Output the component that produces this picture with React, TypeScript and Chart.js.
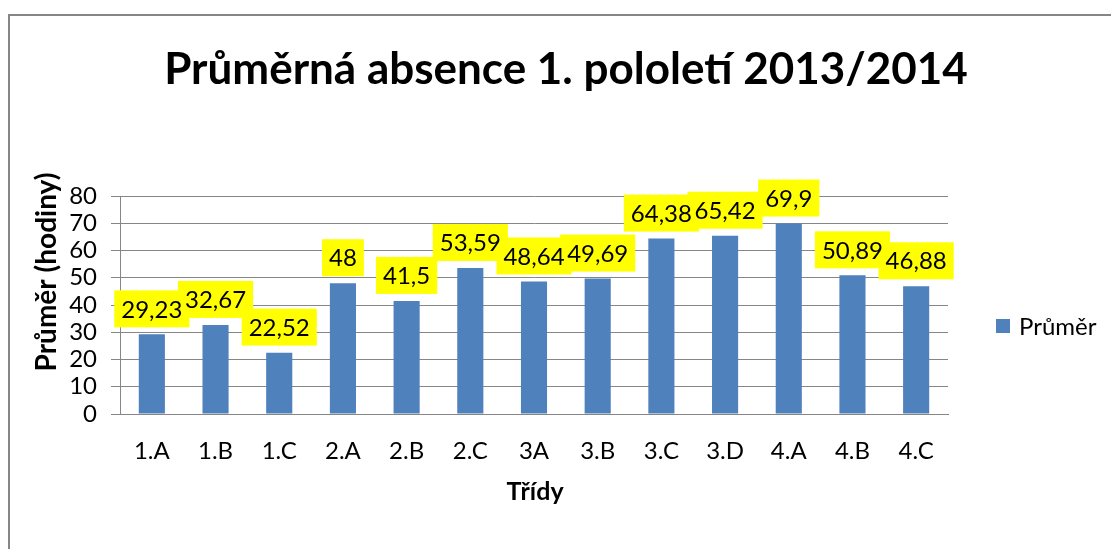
import React, { useEffect, useRef } from "react";
import { Chart, registerables } from "chart.js";

Chart.register(...registerables);

const chartTitle = "Průměrná absence 1. pololetí 2013/2014";
const yAxisTitle = "Průměr (hodiny)";
const xAxisTitle = "Třídy";
const seriesName = "Průměr";
const categories = ["1.A", "1.B", "1.C", "2.A", "2.B", "2.C", "3A", "3.B", "3.C", "3.D", "4.A", "4.B", "4.C"];
const values = [29.23, 32.67, 22.52, 48, 41.5, 53.59, 48.64, 49.69, 64.38, 65.42, 69.9, 50.89, 46.88];
const yMin = 0;
const yMax = 80;
const yStep = 10;

const FONT = "Lato, 'Open Sans', sans-serif";
const BAR = "#4F81BD";
const GRID = "#868686";

const fmt = (v: number) => String(v).replace(".", ",");

const decor = {
  id: "decor",
  beforeDraw(chart: any) {
    const ctx = chart.ctx;
    ctx.save();
    ctx.fillStyle = "#fff";
    ctx.fillRect(0, 0, chart.width, chart.height);
    ctx.strokeStyle = GRID;
    ctx.lineWidth = 2;
    ctx.strokeRect(9, 15, chart.width + 50, chart.height + 50);
    ctx.restore();
  },
  afterDatasetsDraw(chart: any) {
    const ctx = chart.ctx;
    const meta = chart.getDatasetMeta(0);
    ctx.save();
    ctx.font = `24px ${FONT}`;
    ctx.textAlign = "center";
    ctx.textBaseline = "middle";
    const h = 37;
    const items = meta.data.map((bar: any, i: number) => {
      const txt = fmt(values[i]);
      const w = ctx.measureText(txt).width + 14;
      const bottom = bar.y - 7;
      return { txt, w, x: bar.x, bottom };
    });
    ctx.fillStyle = "#FFFF00";
    items.forEach((it: any) => ctx.fillRect(it.x - it.w / 2, it.bottom - h, it.w, h));
    ctx.fillStyle = "#000";
    items.forEach((it: any) => ctx.fillText(it.txt, it.x, it.bottom - h / 2 + 1));
    ctx.restore();
  },
  afterDraw(chart: any) {
    const ctx = chart.ctx;
    ctx.save();
    ctx.fillStyle = "#000";
    // title
    ctx.font = `bold 44px ${FONT}`;
    ctx.textAlign = "center";
    ctx.textBaseline = "alphabetic";
    ctx.fillText(chartTitle, 566, 84);
    // x title
    ctx.font = `bold 25px ${FONT}`;
    ctx.fillText(xAxisTitle, 535, 500);
    // y title
    ctx.save();
    ctx.translate(56, 272);
    ctx.rotate(-Math.PI / 2);
    ctx.font = `bold 28px ${FONT}`;
    ctx.fillText(yAxisTitle, 0, 0);
    ctx.restore();
    // legend
    ctx.fillStyle = BAR;
    ctx.fillRect(996, 319, 14, 14);
    ctx.fillStyle = "#000";
    ctx.font = `24px ${FONT}`;
    ctx.textAlign = "left";
    ctx.textBaseline = "middle";
    ctx.fillText(seriesName, 1019, 327);
    ctx.restore();
  },
};

export default function App() {
  const ref = useRef<HTMLCanvasElement | null>(null);
  useEffect(() => {
    if (!ref.current) return;
    const chart = new Chart(ref.current, {
      type: "bar",
      data: {
        labels: categories,
        datasets: [
          {
            label: seriesName,
            data: values,
            backgroundColor: BAR,
            barPercentage: 0.41,
            categoryPercentage: 1,
          },
        ],
      },
      options: {
        responsive: false,
        animation: false,
        layout: { padding: { top: 196, right: 163, bottom: 0, left: 0 } },
        plugins: {
          legend: { display: false },
          title: { display: false },
          tooltip: { enabled: false },
        },
        scales: {
          x: {
            grid: { display: false, drawTicks: false },
            border: { display: true, color: GRID, width: 1 },
            ticks: { font: { family: FONT, size: 24 }, color: "#000", padding: 23, maxRotation: 0, autoSkip: false },
            afterFit: (s: any) => {
              s.height = 135;
            },
          },
          y: {
            min: yMin,
            max: yMax,
            ticks: { stepSize: yStep, autoSkip: false, font: { family: FONT, size: 24 }, color: "#000", padding: 14 },
            grid: { color: GRID, tickLength: 9, drawTicks: true },
            border: { display: true, color: GRID, width: 1 },
            afterFit: (s: any) => {
              s.width = 120;
            },
          },
        },
      },
      plugins: [decor],
    });
    return () => chart.destroy();
  }, []);
  return (
    <canvas
      ref={ref}
      width={1111}
      height={549}
      style={{ position: "fixed", left: 0, top: 0, width: 1111, height: 549 }}
    />
  );
}
